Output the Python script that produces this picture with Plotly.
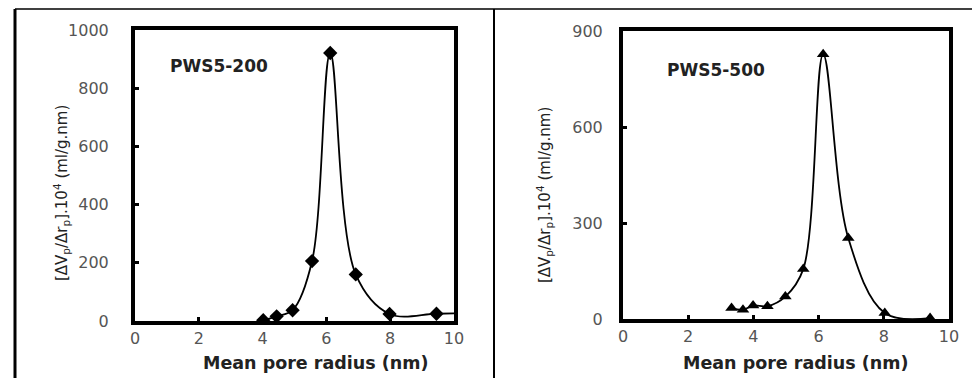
import plotly.graph_objects as go

# PWS5-200 (diamonds)
x_200 = [4.02, 4.44, 4.94, 5.55, 6.12, 6.92, 7.98, 9.45, 10.5]
y_200 = [3, 16, 37, 206, 921, 160, 24, 25, 27]

# PWS5-500 (triangles)
x_500 = [3.33, 3.68, 3.99, 4.43, 4.98, 5.53, 6.14, 6.91, 8.03, 9.42]
y_500 = [34, 29, 42, 40, 70, 156, 827, 253, 19, 3]

x_ticks = [0, 2, 4, 6, 8, 10]
y_ticks_200 = [0, 200, 400, 600, 800, 1000]
y_ticks_500 = [0, 300, 600, 900]

W, H = 980, 378
FAM = "DejaVu Sans, Liberation Sans, Arial, sans-serif"
TICKFONT = dict(family=FAM, size=16, color="#555555")
XTITLE = "<b>Mean pore radius (nm)</b>"
YTITLE = "[ΔV<sub>p</sub>/Δr<sub>p</sub>].10<sup>4</sup> (ml/g.nm)"

fig = go.Figure(layout=dict(template="none"))
fig.add_trace(go.Scatter(x=x_200, y=y_200, mode="lines+markers", xaxis="x", yaxis="y",
                         line=dict(color="black", width=1.8, shape="spline", smoothing=1.0),
                         marker=dict(symbol="diamond", size=11, color="black"),
                         showlegend=False))
fig.add_trace(go.Scatter(x=x_500, y=y_500, mode="lines+markers", xaxis="x2", yaxis="y2",
                         line=dict(color="black", width=1.8, shape="spline", smoothing=1.0),
                         marker=dict(symbol="triangle-up", size=11, color="black"),
                         showlegend=False))

def px_x(p):
    return p / W

def px_y(p):
    return 1 - p / H

axis_common = dict(showline=True, linecolor="black", linewidth=4, mirror=True,
                   ticks="inside", ticklen=4, tickwidth=3, tickcolor="black",
                   showgrid=False, zeroline=False, tickfont=TICKFONT, automargin=False)

fig.update_layout(
    width=W, height=H,
    margin=dict(l=0, r=0, t=0, b=0),
    paper_bgcolor="white", plot_bgcolor="white",
    xaxis=dict(domain=[px_x(127), px_x(446)], range=[0, 10], tickvals=x_ticks,
               anchor="y", ticklabelstandoff=0, **axis_common),
    yaxis=dict(domain=[px_y(313), px_y(22)], range=[0, 1000], tickvals=y_ticks_200,
               anchor="x", ticklabelstandoff=19, **axis_common),
    xaxis2=dict(domain=[px_x(615), px_x(941)], range=[0, 10], tickvals=x_ticks,
                anchor="y2", ticklabelstandoff=0, **axis_common),
    yaxis2=dict(domain=[px_y(311), px_y(23)], range=[0, 900], tickvals=y_ticks_500,
                anchor="x2", ticklabelstandoff=13, **axis_common),
)

texts = [
    ("<b>PWS5-200</b>", 211, 58, 0, 17),
    ("<b>PWS5-500</b>", 708, 62, 0, 17),
    (XTITLE, 307, 355, 0, 17.5),
    (XTITLE, 787, 355, 0, 17.5),
    (YTITLE, 53, 185, -90, 15),
    (YTITLE, 537, 187, -90, 15),
]
for t, x, y, ang, sz in texts:
    fig.add_annotation(text=t, xref="paper", yref="paper", x=px_x(x), y=px_y(y),
                       xanchor="center", yanchor="middle", textangle=ang, showarrow=False,
                       font=dict(family=FAM, size=sz, color="#222222"))

# table borders
lines = [
    (7, 1, 7, 374, 3),
    (7, 374, 980, 374, 3),
    (486, 1, 486, 374, 2),
    (7, 1, 980, 1, 1.5),
]
for x0, y0, x1, y1, w in lines:
    fig.add_shape(type="line", xref="paper", yref="paper",
                  x0=px_x(x0), y0=px_y(y0), x1=px_x(x1), y1=px_y(y1),
                  line=dict(color="black", width=w))

fig.write_html("out.html")
